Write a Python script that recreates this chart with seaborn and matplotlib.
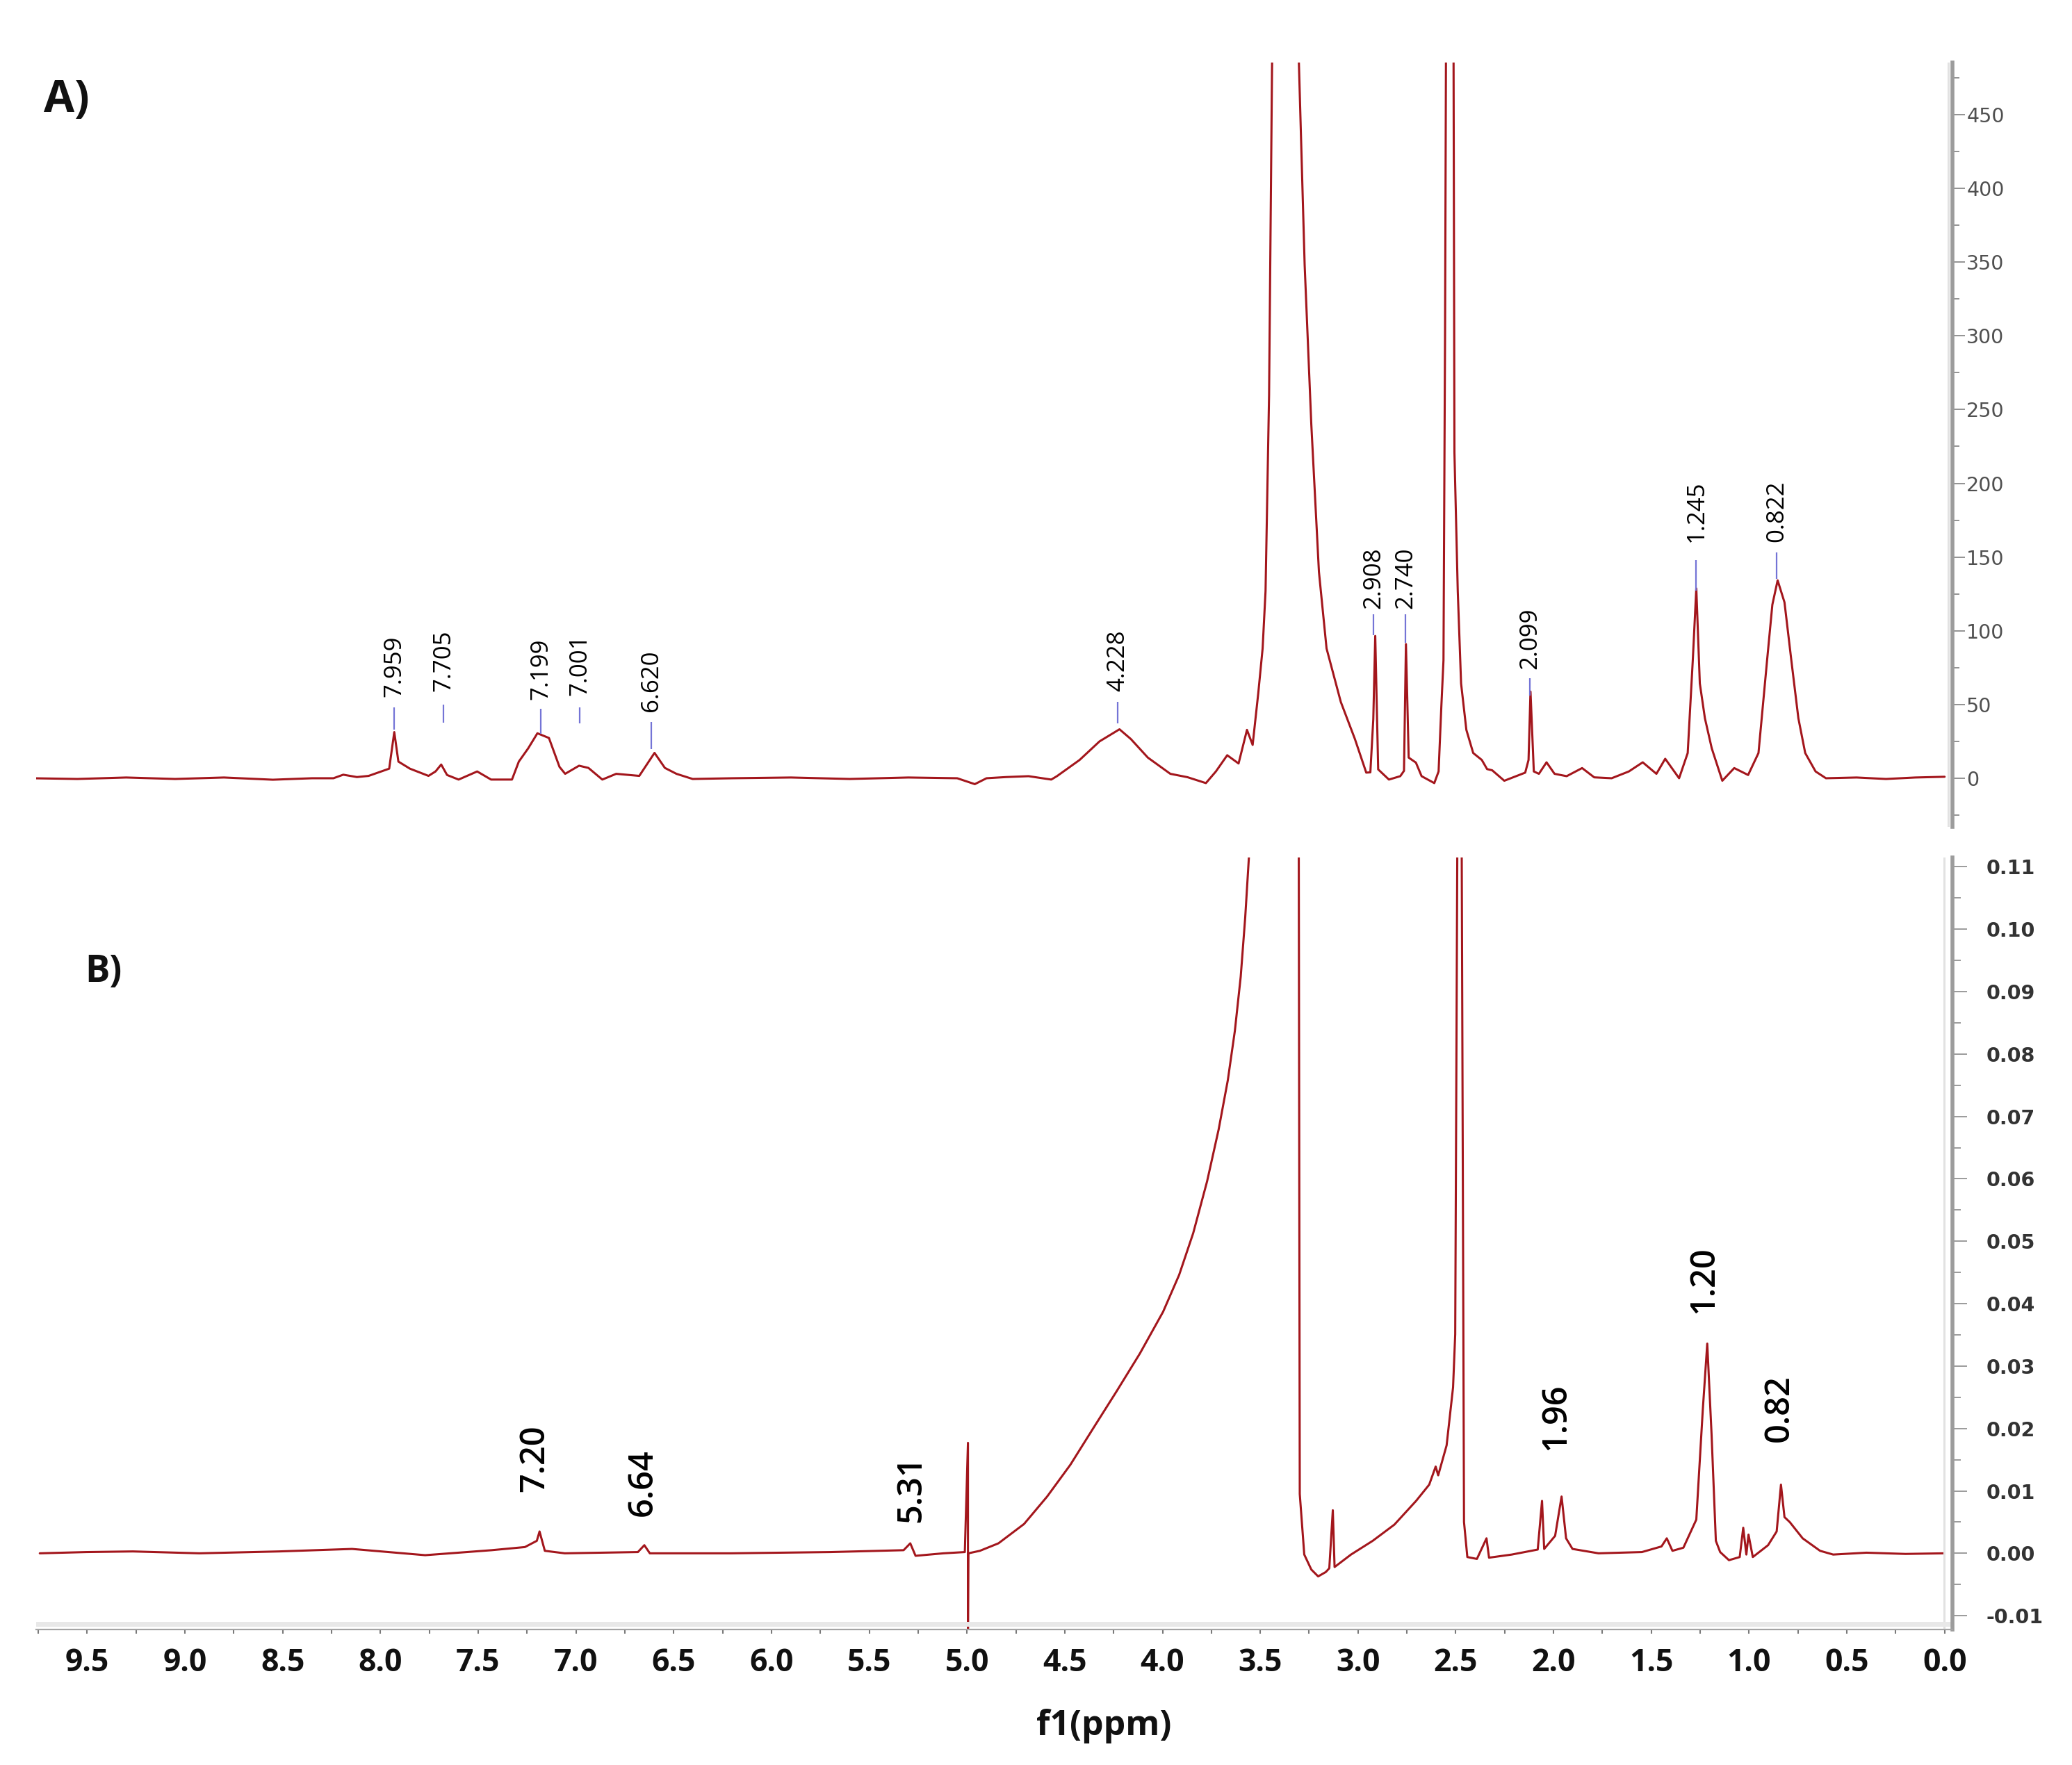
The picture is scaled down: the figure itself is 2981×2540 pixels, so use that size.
import numpy as np
import pandas as pd
import seaborn as sns
import matplotlib
matplotlib.use("Agg")
from matplotlib import pyplot as plt
from matplotlib.ticker import MultipleLocator, FormatStrFormatter

# ---- panel A spectrum (ppm, intensity) ----
ppm_a = [9.78, 9.55, 9.3, 9.05, 8.8, 8.55, 8.35, 8.24, 8.19, 8.12, 8.06, 7.955, 7.929, 7.908,
         7.849, 7.754, 7.718, 7.689, 7.659, 7.600, 7.505, 7.434, 7.327, 7.292, 7.244, 7.197,
         7.138, 7.084, 7.055, 6.984, 6.936, 6.865, 6.794, 6.676, 6.598, 6.545, 6.486, 6.403,
         6.2, 5.9, 5.6, 5.3, 5.05, 4.96, 4.9, 4.8, 4.685, 4.569, 4.540, 4.424, 4.322, 4.220,
         4.162, 4.075, 3.960, 3.872, 3.778, 3.727, 3.669, 3.611, 3.568, 3.539, 3.510, 3.488,
         3.473, 3.455, 3.44, 3.40, 3.36, 3.31, 3.273, 3.239, 3.20, 3.161, 3.088, 3.016, 2.958,
         2.937, 2.922, 2.912, 2.897, 2.842, 2.784, 2.765, 2.755, 2.741, 2.704, 2.675, 2.610,
         2.588, 2.574, 2.563, 2.555, 2.545, 2.53, 2.515, 2.507, 2.490, 2.473, 2.446, 2.411,
         2.367, 2.340, 2.314, 2.252, 2.145, 2.128, 2.118, 2.101, 2.075, 2.036, 1.995, 1.933,
         1.854, 1.792, 1.703, 1.615, 1.544, 1.474, 1.429, 1.358, 1.314, 1.288, 1.270, 1.252,
         1.226, 1.191, 1.137, 1.076, 1.005, 0.952, 0.908, 0.881, 0.854, 0.819, 0.784, 0.748,
         0.713, 0.660, 0.607, 0.45, 0.3, 0.15, 0.0]
int_a = [0, -0.5, 0.5, -0.5, 0.5, -1, 0, 0, 2.4, 0.8, 1.6, 6.5, 31.3, 11.3,
         6.5, 1.6, 4.6, 9.3, 2.2, -0.9, 4.6, -0.9, -0.9, 11.3, 20.3, 30.5,
         27.3, 7.7, 3.0, 8.5, 7.0, -0.9, 3.0, 1.6, 17.2, 7.0, 3.0, -0.5,
         0, 0.5, -0.5, 0.5, 0, -4, 0, 0.8, 1.4, -0.9, 1.4, 12.4, 25, 33.2,
         26.6, 14, 3.0, 0.7, -3.3, 4.6, 15.6, 10, 32.8, 22.6, 58, 88,
         127, 260, 480, 900, 900, 520, 348, 240, 140, 88, 51.7, 26.6, 3.8,
         4, 40, 96.5, 6, -0.9, 1.4, 5, 91, 14, 10.6, 1.4, -3.3,
         4.6, 48.5, 80, 300, 700, 1000, 700, 221, 127, 64.3, 32.8, 17.1,
         12.4, 6.2, 5.4, -1.7, 3.8, 12.4, 58.8, 4.6, 3, 10.8, 3, 1.4,
         6.9, 0.6, 0, 4.6, 10.8, 3, 13.2, 0, 17.1, 80, 128.7, 64.3,
         40.7, 20.3, -1.7, 6.9, 2.2, 17.1, 80, 117.7, 134.2, 119.3, 80, 40.7,
         17.1, 4.6, 0, 0.5, -0.5, 0.5, 1]

# ---- panel B spectrum ----
ppm_b = [9.742, 9.504, 9.266, 8.926, 8.519, 8.145, 7.771, 7.431, 7.261, 7.200, 7.186, 7.159,
         7.057, 6.683, 6.650, 6.622, 6.208, 5.698, 5.324, 5.290, 5.263, 5.120, 5.011, 4.995,
         4.995, 4.993, 4.934, 4.839, 4.708, 4.590, 4.471, 4.353, 4.234, 4.116, 3.997, 3.915,
         3.843, 3.772, 3.713, 3.666, 3.630, 3.600, 3.577, 3.557, 3.45, 3.305, 3.298, 3.275,
         3.239, 3.204, 3.165, 3.147, 3.129, 3.120, 3.036, 2.925, 2.814, 2.703, 2.636, 2.603,
         2.590, 2.547, 2.514, 2.503, 2.492, 2.48, 2.470, 2.458, 2.441, 2.392, 2.343, 2.330,
         2.214, 2.081, 2.059, 2.048, 1.992, 1.959, 1.936, 1.903, 1.770, 1.548, 1.448, 1.421,
         1.392, 1.336, 1.270, 1.237, 1.214, 1.192, 1.170, 1.148, 1.103, 1.048, 1.030, 1.014,
         1.003, 0.981, 0.903, 0.859, 0.837, 0.819, 0.792, 0.726, 0.637, 0.570, 0.4, 0.2, 0.003]
int_b = [0, 0.0002, 0.0003, 0, 0.0003, 0.0007, -0.0003, 0.0005, 0.001, 0.002, 0.0035, 0.0004,
         0, 0.0002, 0.0013, 0, 0, 0.0002, 0.0005, 0.0016, -0.0004, 0, 0.0002, 0.0177,
         -0.013, 0, 0.0004, 0.0016, 0.0047, 0.0091, 0.0142, 0.0201, 0.026, 0.032, 0.0387, 0.0446,
         0.0513, 0.0596, 0.0679, 0.0758, 0.0837, 0.0924, 0.1019, 0.1121, 0.30, 0.15, 0.0095, -0.0002,
         -0.0026, -0.0037, -0.003, -0.0024, 0.0069, -0.0022, -0.0002, 0.002, 0.0046, 0.0084, 0.011, 0.0139,
         0.0125, 0.0173, 0.0266, 0.0351, 0.115, 0.25, 0.115, 0.005, -0.0006, -0.0009, 0.0024, -0.0007,
         -0.0002, 0.0006, 0.0084, 0.0007, 0.0028, 0.0091, 0.0024, 0.0007, 0, 0.0002, 0.0011, 0.0024,
         0.0004, 0.0009, 0.0054, 0.0229, 0.0336, 0.0191, 0.002, 0.0002, -0.0011, -0.0006, 0.0041, -0.0002,
         0.003, -0.0006, 0.0013, 0.0035, 0.011, 0.0058, 0.005, 0.0024, 0.0004, -0.0002, 0.0001, -0.0001, 0]

# peak labels
peaks_a = ['7.959', '7.705', '7.199', '7.001', '6.620', '4.228', '2.908', '2.740', '2.099', '1.245', '0.822']
peaks_a_x = [7.93, 7.676, 7.18, 6.98, 6.615, 4.23, 2.92, 2.757, 2.12, 1.27, 0.858]
peaks_b = ['7.20', '6.64', '5.31', '1.96', '1.20', '0.82']
peaks_b_x = [7.209, 6.655, 5.284, 1.986, 1.23, 0.845]

# where the annotations sit (data units)
tick_a_lo = [33, 37.6, 30, 37, 20, 37, 97, 92, 56, 127, 135]
tick_a_hi = [48, 50, 47, 48, 38, 52, 111, 111, 68, 148, 153]
text_a_y = [55, 59, 53, 56, 45, 59, 115, 115, 74, 160, 160]
text_b_y = [0.0098, 0.0059, 0.0049, 0.0165, 0.0384, 0.0178]

RED = '#a3161c'

sns.set_theme(style='white')
plt.rcParams['font.family'] = ['DejaVu Sans']
plt.rcParams['axes.unicode_minus'] = False

fig = plt.figure(figsize=(29.81, 25.40), dpi=100)
ax_a = fig.add_axes([0.0175, 0.5315, 0.9248, 0.4332])
ax_b = fig.add_axes([0.0175, 0.0768, 0.9248, 0.4374])

df_a = pd.DataFrame({'ppm': ppm_a, 'intensity': int_a})
df_b = pd.DataFrame({'ppm': ppm_b, 'intensity': int_b})
sns.lineplot(data=df_a, x='ppm', y='intensity', sort=False, estimator=None,
             color=RED, lw=2.2, ax=ax_a)
sns.lineplot(data=df_b, x='ppm', y='intensity', sort=False, estimator=None,
             color=RED, lw=2.2, ax=ax_b)

for ax in (ax_a, ax_b):
    ax.set_xlim(9.76, -0.040)
    ax.set_xlabel('')
    ax.set_ylabel('')
    ax.yaxis.tick_right()
    for s in ('left', 'top', 'bottom'):
        ax.spines[s].set_visible(False)
    ax.spines['right'].set_color('#9c9c9c')
    ax.spines['right'].set_linewidth(4)

# --- panel A ---
ax_a.set_ylim(-33, 485.5)
ax_a.set_xticks([])
ax_a.yaxis.set_major_locator(MultipleLocator(50))
ax_a.yaxis.set_minor_locator(MultipleLocator(25))
ax_a.tick_params(axis='y', which='major', direction='out', length=13, width=1.2,
                 color='#808080', pad=1.5, labelsize=20.5, labelcolor='#505050', right=True)
ax_a.tick_params(axis='y', which='minor', direction='out', length=7, width=1.2,
                 color='#808080', right=True)
ax_a.axvline(-0.017, color='#e2e2e2', lw=2.2)
ax_a.vlines(peaks_a_x, tick_a_lo, tick_a_hi, color='#7474d6', lw=1.6)
for x, y, s in zip(peaks_a_x, text_a_y, peaks_a):
    ax_a.text(x, y, s, rotation=90, ha='center', va='bottom', fontsize=25,
              family=['Open Sans', 'DejaVu Sans'], color='#000000')

# --- panel B ---
ax_b.set_ylim(-0.0122, 0.1115)
ax_b.yaxis.set_major_locator(MultipleLocator(0.01))
ax_b.yaxis.set_minor_locator(MultipleLocator(0.005))
ax_b.yaxis.set_major_formatter(FormatStrFormatter('%.2f'))
ax_b.tick_params(axis='y', which='major', direction='out', length=15, width=1.2,
                 color='#8a8a8a', pad=20, labelsize=20.5, labelcolor='#333333', right=True)
ax_b.tick_params(axis='y', which='minor', direction='out', length=8.5, width=1.2,
                 color='#8a8a8a', right=True)
for lab in ax_b.get_yticklabels():
    lab.set_fontweight('bold')
ax_b.axvline(0.004, color='#e2e2e2', lw=2.2)

ax_b.spines['bottom'].set_visible(True)
ax_b.spines['bottom'].set_color('#a4a4a4')
ax_b.spines['bottom'].set_linewidth(1.6)
ax_b.axhline(-0.0113, color='#e8e8e8', lw=5)
ax_b.xaxis.set_major_locator(MultipleLocator(0.5))
ax_b.xaxis.set_minor_locator(MultipleLocator(0.25))
ax_b.xaxis.set_major_formatter(FormatStrFormatter('%.1f'))
ax_b.tick_params(axis='x', which='both', direction='out', length=4.5, width=1.5,
                 color='#7a7a7a', bottom=True)
ax_b.tick_params(axis='x', which='major', pad=14, labelsize=32, labelcolor='#111111')
for lab in ax_b.get_xticklabels():
    lab.set_fontweight('bold')
    lab.set_family(['Open Sans', 'DejaVu Sans'])

for x, y, s in zip(peaks_b_x, text_b_y, peaks_b):
    ax_b.text(x, y, s, rotation=90, ha='center', va='bottom', fontsize=35,
              fontweight='semibold', family=['Open Sans', 'DejaVu Sans'], color='#000000')

ax_b.set_xlabel('f1(ppm)', fontsize=36, fontweight='bold',
                family=['Open Sans', 'DejaVu Sans'], color='#111111')
ax_b.xaxis.set_label_coords(0.557, -0.103)
ax_b.xaxis.label.set_va('top')

fig.text(0.0211, 0.9366, 'A)', fontsize=46, fontweight='bold', va='baseline',
         family=['Open Sans', 'DejaVu Sans'], color='#111111')
fig.text(0.041, 0.4437, 'B)', fontsize=38, fontweight='bold', va='baseline',
         family=['Open Sans', 'DejaVu Sans'], color='#111111')

fig.savefig('out.png', dpi=100, facecolor='white')
